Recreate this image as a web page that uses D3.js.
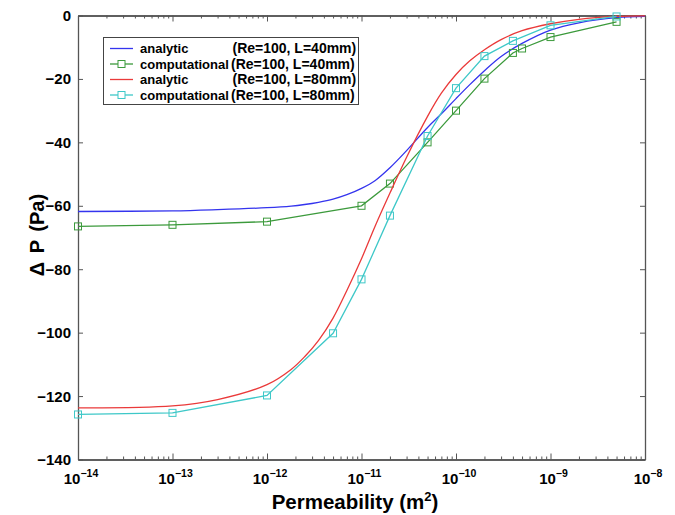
<!DOCTYPE html>
<html><head><meta charset="utf-8">
<script src="https://cdn.jsdelivr.net/npm/d3@7"></script>
<style>
body{margin:0;background:#fff;}
svg text{font-family:"Liberation Sans",Arial,Helvetica,sans-serif;font-weight:bold;fill:#000;}
</style></head>
<body><svg id="chart" width="675" height="515"></svg>
<script>
// ---------- data ----------
const xTickExps = [-14, -13, -12, -11, -10, -9, -8];
const yTickValues = [0, -20, -40, -60, -80, -100, -120, -140];

// analytic curves (sampled along permeability)
const kAnalytic = [1e-14, 1e-13, 3e-13, 1e-12, 1.8e-12, 2.5e-12, 3.5e-12, 5e-12, 7e-12, 1e-11, 1.4e-11, 2e-11, 3e-11, 5e-11, 7e-11, 1e-10, 1.4e-10, 2e-10, 3e-10, 5e-10, 1e-9, 2e-9, 5e-9, 1e-8];
const analytic40 = [-61.8, -61.6, -61.2, -60.6, -60.1, -59.6, -58.9, -57.9, -56.5, -54.5, -52.0, -48.0, -42.6, -35.3, -31.0, -26.2, -21.8, -17.4, -12.9, -8.8, -4.6, -2.3, -0.7, -0.3];
const analytic80 = [-123.7, -123.1, -121.1, -116.4, -111.6, -107.6, -102.5, -95.4, -86.7, -76.7, -66.3, -56.0, -44.7, -31.8, -24.5, -18.6, -14.3, -10.8, -7.6, -4.8, -2.6, -1.2, -0.3, -0.1];

// computational results
const kComp40 = [1e-14, 1e-13, 1e-12, 1e-11, 2e-11, 5e-11, 1e-10, 2e-10, 4e-10, 5e-10, 1e-9, 5e-9];
const comp40 = [-66.5, -66.0, -65.0, -60.0, -53.0, -40.0, -30.0, -19.9, -11.8, -10.4, -6.8, -2.0];
const kComp80 = [1e-14, 1e-13, 1e-12, 5e-12, 1e-11, 2e-11, 5e-11, 1e-10, 2e-10, 4e-10, 1e-9, 5e-9];
const comp80 = [-125.8, -125.3, -119.8, -100.2, -83.2, -63.1, -38.0, -22.9, -12.8, -8.0, -3.1, -0.3];

const seriesNames = ["analytic", "computational", "analytic", "computational"];
const seriesParams = ["(Re=100, L=40mm)", "(Re=100, L=40mm)", "(Re=100, L=80mm)", "(Re=100, L=80mm)"];
const seriesColors = ["#3434ee", "#3c9a3c", "#ea3a3a", "#3ec8c8"];

const xLabel = "Permeability (m";
const yLabel = "\u0394 P (Pa)";

// ---------- layout ----------
const svg = d3.select("#chart");
const L = 78, R = 645, T = 15.5, B = 459.5;
const x = d3.scaleLog().domain([1e-14, 1e-8]).range([L, R]);
const y = d3.scaleLinear().domain([-140, 0]).range([B, T]);
const axisColor = "#555";

const series = [
  {k: kAnalytic, v: analytic40, color: seriesColors[0], markers: false},
  {k: kComp40, v: comp40, color: seriesColors[1], markers: true},
  {k: kAnalytic, v: analytic80, color: seriesColors[2], markers: false},
  {k: kComp80, v: comp80, color: seriesColors[3], markers: true}
];

svg.append("clipPath").attr("id","clip").append("rect")
  .attr("x", L - 4).attr("y", T - 4).attr("width", R - L + 8).attr("height", B - T + 8);

// axes
const minorTicks = [];
for (let e = -14; e < -8; e++) for (let m = 2; m <= 9; m++) minorTicks.push(m * Math.pow(10, e));
const majorTicks = xTickExps.map(e => Math.pow(10, e));

const gx = svg.append("g");
const mk = (axis, vals, size) => axis.tickValues(vals).tickSizeInner(-size).tickSizeOuter(0).tickFormat("");
gx.append("g").attr("transform", `translate(0,${B})`).call(mk(d3.axisBottom(x), majorTicks, 6));
gx.append("g").attr("transform", `translate(0,${B})`).call(mk(d3.axisBottom(x), minorTicks, 3));
gx.append("g").attr("transform", `translate(0,${T})`).call(mk(d3.axisTop(x), majorTicks, 6));
gx.append("g").attr("transform", `translate(0,${T})`).call(mk(d3.axisTop(x), minorTicks, 3));
gx.append("g").attr("transform", `translate(${L},0)`).call(mk(d3.axisLeft(y), yTickValues, 5));
gx.append("g").attr("transform", `translate(${R},0)`).call(mk(d3.axisRight(y), yTickValues, 5));
gx.selectAll("path.domain").attr("stroke", axisColor).attr("stroke-width", 1.3);
gx.selectAll(".tick line").attr("stroke", axisColor).attr("stroke-width", 1);

// tick labels
const xl = svg.append("g");
xTickExps.forEach(e => {
  const t = xl.append("text").attr("x", x(Math.pow(10, e)) + 3).attr("y", 484)
    .attr("text-anchor", "middle").style("font-size", "15px");
  t.append("tspan").text("10");
  t.append("tspan").attr("dy", -7).style("font-size", "10.5px").text("\u2212" + Math.abs(e));
});
yTickValues.forEach(v => {
  svg.append("text").attr("x", 71).attr("y", y(v) + 5.5).attr("text-anchor", "end")
    .style("font-size", "15px").text(v < 0 ? "\u2212" + Math.abs(v) : String(v));
});

// axis titles
const xt2 = svg.append("text").attr("x", 355).attr("y", 509).attr("text-anchor", "middle").style("font-size", "20.5px");
xt2.append("tspan").text(xLabel);
xt2.append("tspan").attr("dy", -8).style("font-size", "13px").text("2");
xt2.append("tspan").attr("dy", 8).text(")");
svg.append("text").attr("transform", "translate(44,235) rotate(-90)").attr("text-anchor", "middle")
  .style("font-size", "20px").style("word-spacing", "3px").text(yLabel);

// lines
const plot = svg.append("g").attr("clip-path", "url(#clip)");
series.forEach(s => {
  const pts = s.k.map((k, i) => [x(k), y(s.v[i])]);
  const line = d3.line().curve(s.markers ? d3.curveLinear : d3.curveCatmullRom.alpha(0.5));
  plot.append("path").attr("d", line(pts)).attr("fill", "none")
    .attr("stroke", s.color).attr("stroke-width", 1.3);
  if (s.markers) {
    plot.selectAll(null).data(pts).enter().append("rect")
      .attr("x", d => d[0] - 3.5).attr("y", d => d[1] - 3.5)
      .attr("width", 7).attr("height", 7)
      .attr("fill", "none").attr("stroke", s.color).attr("stroke-width", 1);
  }
});

// legend
const lg = svg.append("g");
lg.append("rect").attr("x", 103.5).attr("y", 37.5).attr("width", 255).attr("height", 67)
  .attr("fill", "#fff").attr("stroke", "#444").attr("stroke-width", 1);
series.forEach((s, i) => {
  const yy = 48.5 + i * 15.5;
  lg.append("line").attr("x1", 110).attr("x2", 133).attr("y1", yy).attr("y2", yy)
    .attr("stroke", s.color).attr("stroke-width", 1.3);
  if (s.markers) lg.append("rect").attr("x", 118).attr("y", yy - 3.5).attr("width", 7).attr("height", 7)
    .attr("fill", "#fff").attr("stroke", s.color);
  lg.append("text").attr("x", 140).attr("y", yy + 4.5).style("font-size", "13px").text(seriesNames[i]);
  lg.append("text").attr("x", s.markers ? 231 : 232.5).attr("y", yy + 4.5).style("font-size", "14px").text(seriesParams[i]);
});
</script></body></html>
